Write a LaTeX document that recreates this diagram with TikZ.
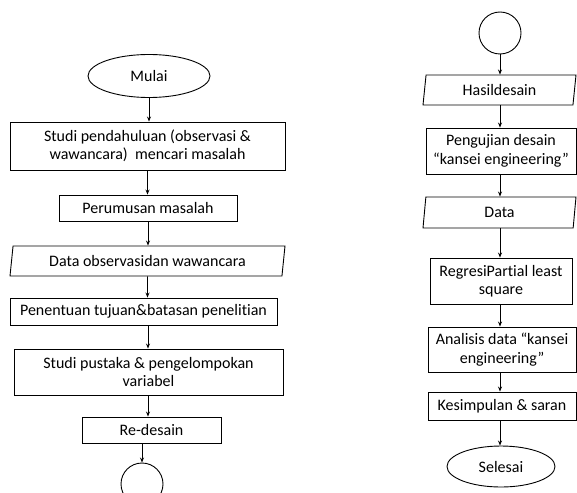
\documentclass[tikz,border=0pt]{standalone}
\usepackage{fontspec}
\setmainfont{Carlito}[Ligatures=NoCommon]
\usetikzlibrary{shapes.geometric,arrows.meta}

\begin{document}
\begin{tikzpicture}[x=1pt, y=-1pt, font=\fontsize{16}{18.5}\selectfont, line width=0.9pt,
  box/.style={draw, rectangle, align=center, inner sep=1pt},
  io/.style={draw, trapezium, trapezium left angle=77, trapezium right angle=103,
    trapezium stretches body, align=center, inner sep=1pt},
  term/.style={draw, ellipse, inner sep=0pt},
  conn/.style={draw, circle, minimum size=42pt, inner sep=0pt},
  flow/.style={-{Stealth[length=5pt,width=4pt]}}]
  \clip (0,0) rectangle (577,492);
  % kolom kiri
  \node[term, minimum width=122pt, minimum height=43pt] (mulai) at (149,76) {Mulai};
  \node[box, minimum width=275pt, minimum height=48pt] (studi) at (147.5,146)
    {Studi pendahuluan (observasi \&\\ wawancara)\ \ mencari masalah};
  \node[box, minimum width=178pt, minimum height=26pt] (rumus) at (148,208) {Perumusan masalah};
  \node[io, minimum width=275pt, minimum height=30pt] (dataobs) at (147.5,261) {Data observasidan wawancara};
  \node[box, minimum width=267pt, minimum height=27pt] (tujuan) at (143.5,311.5) {Penentuan tujuan\&batasan penelitian};
  \node[box, minimum width=269pt, minimum height=46pt] (pustaka) at (148.5,372)
    {Studi pustaka \& pengelompokan\\ variabel};
  \node[box, minimum width=139pt, minimum height=26pt] (redesain) at (151.5,430) {Re-desain};
  \node[conn] (ka) at (142,484) {};
  % kolom kanan
  \node[conn] (kb) at (500,33) {};
  \node[io, minimum width=153pt, minimum height=30pt] (hasil) at (499.5,90) {Hasildesain};
  \node[box, minimum width=150pt, minimum height=46pt] (uji) at (501,151)
    {Pengujian desain\\ “kansei engineering”};
  \node[io, minimum width=153pt, minimum height=31pt] (data) at (499.5,212.5) {Data};
  \node[box, minimum width=142pt, minimum height=46pt] (pls) at (501,281)
    {RegresiPartial least\\ square};
  \node[box, minimum width=148pt, minimum height=45pt] (analisis) at (502,349.5)
    {Analisis data “kansei\\ engineering”};
  \node[box, minimum width=148pt, minimum height=28pt] (simpul) at (502,406) {Kesimpulan \& saran};
  \node[term, minimum width=108pt, minimum height=41pt] (selesai) at (501,466.5) {Selesai};
  \path[flow]
  (mulai) edge (mulai |- studi.north)
  (studi) edge (studi |- rumus.north)
  (rumus) edge (rumus |- dataobs.north)
  (dataobs) edge (dataobs |- tujuan.north)
  (tujuan.south -| rumus) edge (rumus |- pustaka.north)
  (pustaka.south -| rumus) edge (rumus |- redesain.north)
  (redesain.south -| ka) edge (ka.north);
  \path[flow]
  (kb) edge (kb |- hasil.north)
  (hasil.south -| kb) edge (kb |- uji.north)
  (uji.south -| kb) edge (kb |- data.north)
  (data.south -| kb) edge (kb |- pls.north)
  (pls.south -| kb) edge (kb |- analisis.north)
  (analisis.south -| kb) edge (kb |- simpul.north)
  (simpul.south -| kb) edge (kb |- selesai.north);
\end{tikzpicture}
\end{document}
